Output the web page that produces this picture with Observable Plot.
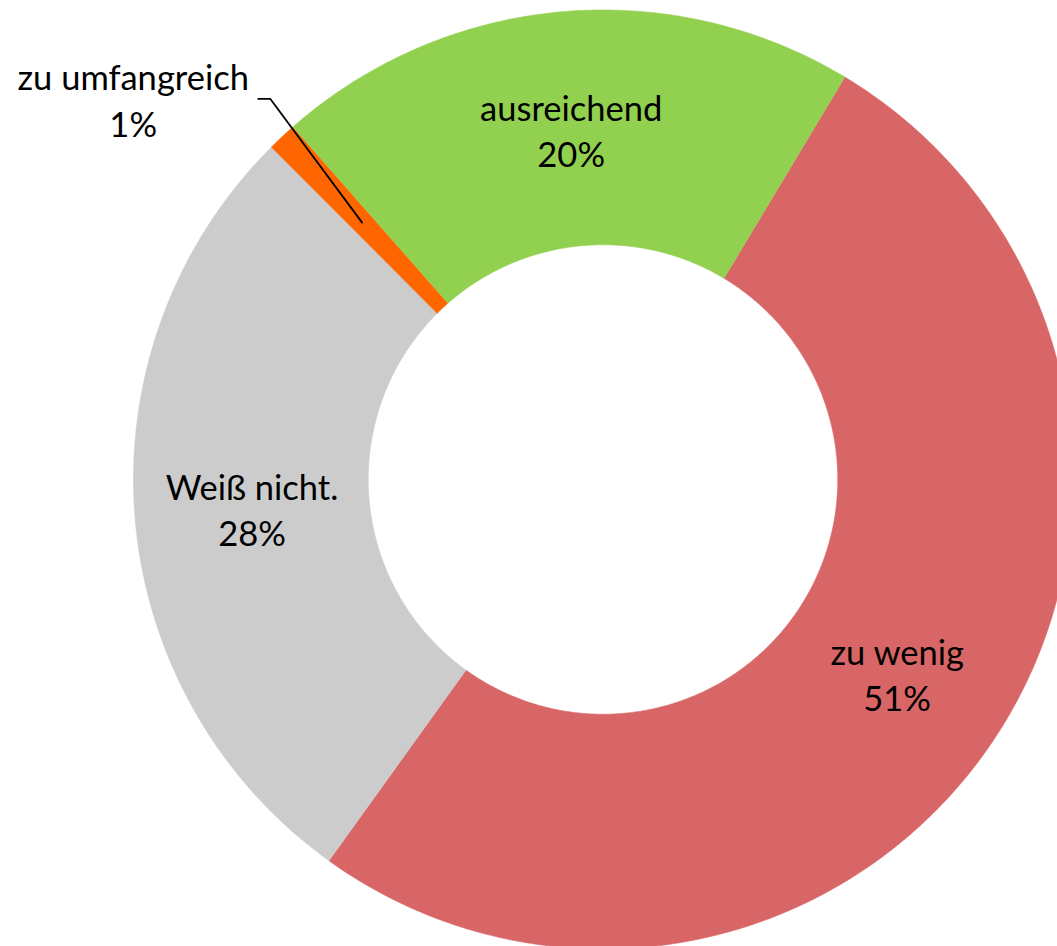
<!DOCTYPE html>
<html><head><meta charset="utf-8">
<script src="https://cdn.jsdelivr.net/npm/d3@7"></script>
<script src="https://cdn.jsdelivr.net/npm/@observablehq/plot@0.6"></script>
<style>html,body{margin:0;padding:0;background:#fff;overflow:hidden}</style>
</head><body><div id="chart"></div>
<script>
// ---- data ----
const categories = ["zu wenig", "Weiß nicht.", "zu umfangreich", "ausreichend"];
const shares = [51.3, 27.6, 1.0, 20.1];
const colors = ["#D96666", "#CCCCCC", "#FF6600", "#92D050"];
const startAngleDeg = 31;   // angle of first slice (clockwise from top)
const holeRatio = 0.5;

// ---- layout ----
const W = 1057, H = 946, CX = 602.5, CY = 479, R = 469.5;

const total = d3.sum(shares);
let acc = startAngleDeg * Math.PI / 180;
const slices = categories.map((c, i) => {
  const a0 = acc, a1 = acc + shares[i] / total * 2 * Math.PI;
  acc = a1;
  return {label: c, a0, a1, mid: (a0 + a1) / 2, pct: Math.round(shares[i] / total * 100)};
});

const ringPts = [];
for (const s of slices) {
  const n = Math.max(4, Math.ceil((s.a1 - s.a0) / (Math.PI / 360)));
  for (let k = 0; k <= n; k++) {
    const a = s.a0 + (s.a1 - s.a0) * k / n;
    ringPts.push({label: s.label, x: Math.sin(a), y: Math.cos(a)});
  }
  for (let k = n; k >= 0; k--) {
    const a = s.a0 + (s.a1 - s.a0) * k / n;
    ringPts.push({label: s.label, x: holeRatio * Math.sin(a), y: holeRatio * Math.cos(a)});
  }
}

const labelR = (1 + holeRatio) / 2;
const insideLabels = slices.filter(s => s.pct >= 5).map(s => ({
  x: labelR * Math.sin(s.mid), y: labelR * Math.cos(s.mid), text: `${s.label}\n${s.pct}%`
}));

const leaderPts = [], outsideLabels = [];
for (const s of slices.filter(s => s.pct < 5)) {
  const e = s.mid + 2 * Math.PI / 180, er = 1.077;
  const p1 = {x: labelR * Math.sin(s.mid), y: labelR * Math.cos(s.mid)};
  const p2 = {x: er * Math.sin(e), y: er * Math.cos(e)};
  const p3 = {x: p2.x - 12 / R, y: p2.y};
  leaderPts.push({...p1, label: s.label}, {...p2, label: s.label}, {...p3, label: s.label});
  outsideLabels.push({x: p3.x - 125 / R, y: p3.y, text: `${s.label}\n${s.pct}%`});
}

const textOpts = {x: "x", y: "y", text: "text", fontSize: 34.5, lineHeight: 1.34, fill: "#000", fontFamily: "Lato, sans-serif", lineAnchor: "middle", textAnchor: "middle"};

const chart = Plot.plot({
  width: W, height: H,
  margin: 0,
  x: {domain: [-CX / R, (W - CX) / R], axis: null},
  y: {domain: [-(H - CY) / R, CY / R], axis: null},
  color: {domain: categories, range: colors},
  style: {background: "#fff", fontFamily: "Lato, sans-serif"},
  marks: [
    Plot.line(ringPts, {x: "x", y: "y", z: "label", fill: "label", stroke: "label", strokeWidth: 0.6}),
    Plot.line(leaderPts, {x: "x", y: "y", z: "label", stroke: "#000", strokeWidth: 1.8}),
    Plot.text(insideLabels, textOpts),
    Plot.text(outsideLabels, textOpts)
  ]
});
document.getElementById("chart").appendChild(chart);
</script>
</body></html>
